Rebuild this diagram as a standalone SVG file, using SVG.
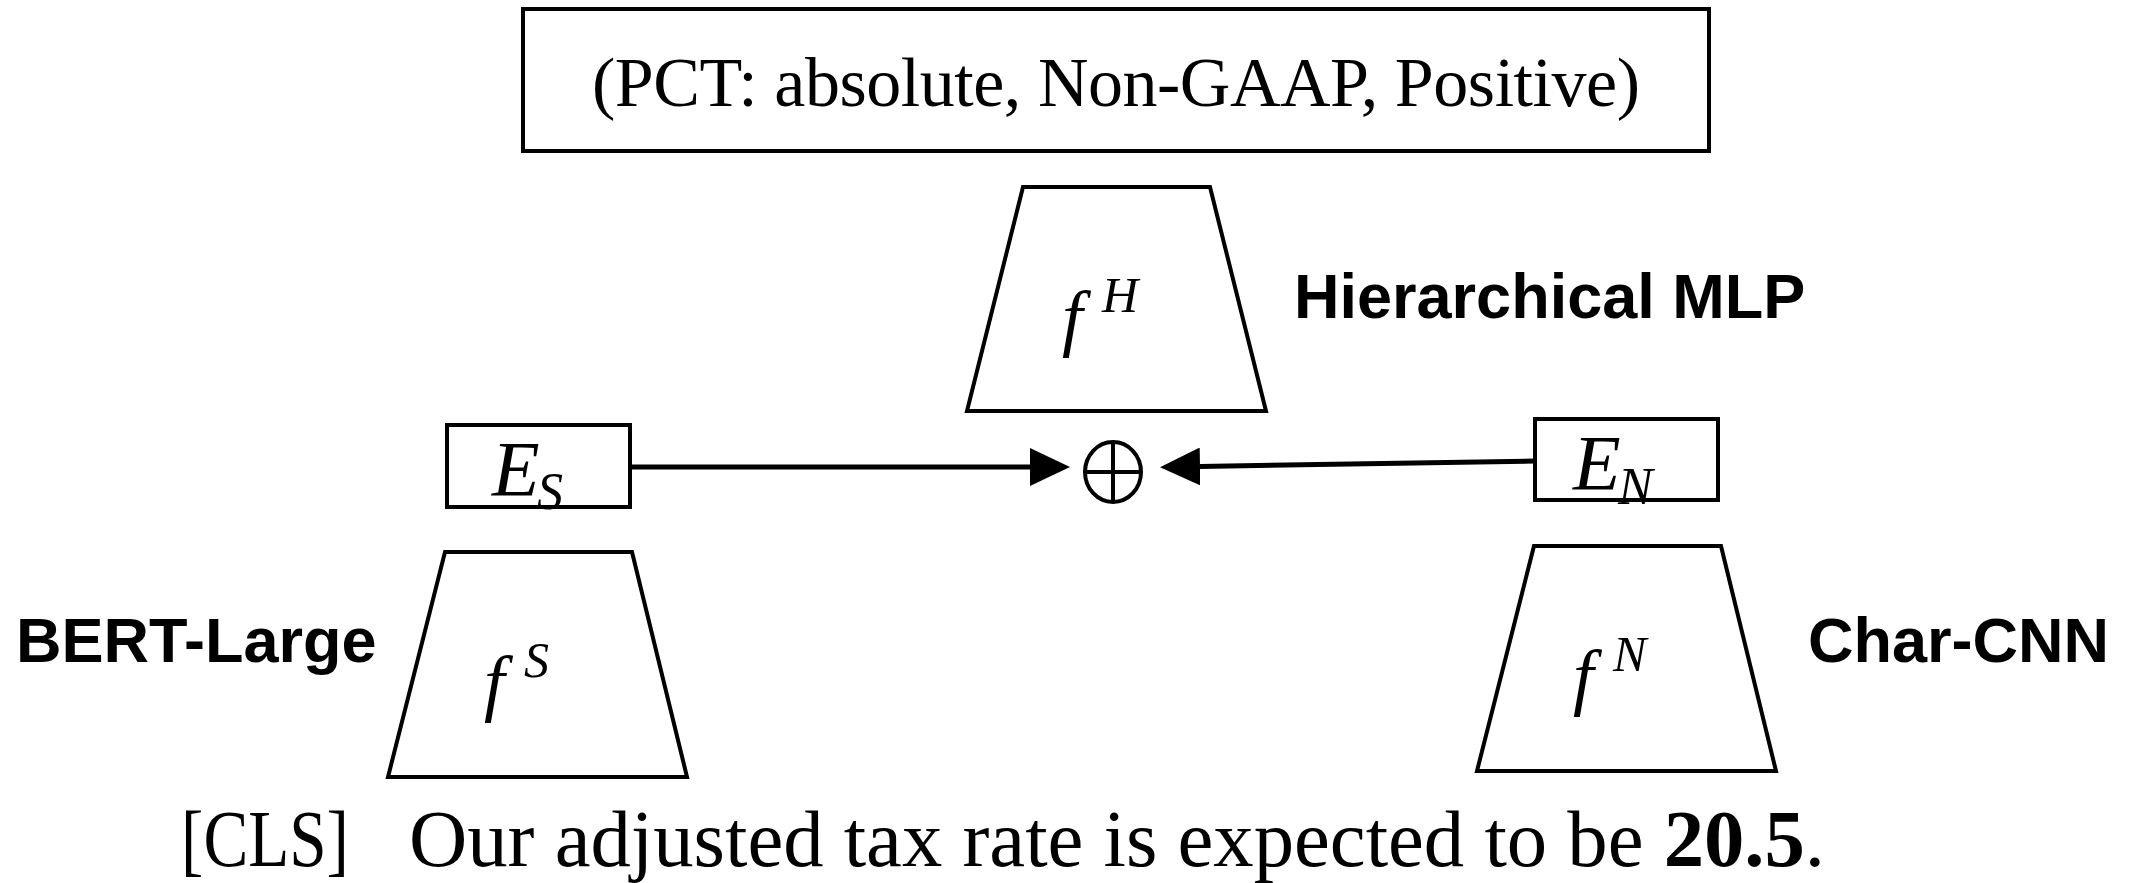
<svg xmlns="http://www.w3.org/2000/svg" width="2136" height="883" viewBox="0 0 2136 883">
  <style>
    .box { fill: #ffffff; stroke: #000000; stroke-width: 4; }
    .trap { fill: #ffffff; stroke: #000000; stroke-width: 4; stroke-linejoin: miter; }
    .serif { font-family: "Liberation Serif", "Times New Roman", serif; fill: #000000; }
    .math { font-family: "Liberation Serif", "Times New Roman", serif; font-style: italic; fill: #000000; }
    .fn { font-size: 74px; }
    .sup { font-size: 50px; }
    .label { font-family: "Liberation Sans", Arial, sans-serif; font-weight: bold; font-size: 63px; fill: #000000; }
    .edge { stroke: #000000; stroke-width: 5; fill: none; }
  </style>
  <defs>
    <marker id="head" markerUnits="userSpaceOnUse" viewBox="0 0 40 38" refX="0" refY="19" markerWidth="40" markerHeight="38" orient="auto">
      <path d="M0,0 L40,19 L0,38 Z" fill="#000000"/>
    </marker>
  </defs>
  <rect width="2136" height="883" fill="#ffffff"/>

  <!-- output tuple -->
  <g id="output">
    <rect class="box" x="523" y="9" width="1186" height="142"/>
    <text class="serif" x="1116" y="106" font-size="70" text-anchor="middle" textLength="1048">(PCT: absolute, Non-GAAP, Positive)</text>
  </g>

  <!-- hierarchical MLP head -->
  <g id="fH">
    <polygon class="trap" points="1023,187 1210,187 1266,411 967,411"/>
    <text class="math fn" x="1062" y="342">f</text>
    <text class="math sup" x="1102" y="312">H</text>
  </g>
  <text id="label-mlp" class="label" x="1294" y="318">Hierarchical MLP</text>

  <!-- sentence embedding -->
  <g id="ES">
    <rect class="box" x="447" y="425" width="183" height="82"/>
    <text class="math" x="492" y="495" font-size="78">E</text>
    <text class="math" x="537" y="509" font-size="52">S</text>
  </g>

  <!-- numeral embedding -->
  <g id="EN">
    <rect class="box" x="1535" y="419" width="183" height="81"/>
    <text class="math" x="1573" y="489" font-size="78">E</text>
    <text class="math" x="1618" y="504" font-size="52">N</text>
  </g>

  <!-- concatenation -->
  <g id="concat">
    <ellipse cx="1113" cy="472" rx="28" ry="30" fill="#ffffff" stroke="#000000" stroke-width="4"/>
    <line x1="1085" y1="472" x2="1141" y2="472" stroke="#000000" stroke-width="4"/>
    <line x1="1113" y1="442" x2="1113" y2="502" stroke="#000000" stroke-width="4"/>
  </g>

  <!-- sentence encoder -->
  <g id="fS">
    <polygon class="trap" points="445,552 632,552 687,777 388,777"/>
    <text class="math fn" x="484" y="707">f</text>
    <text class="math sup" x="524" y="677">S</text>
  </g>
  <text id="label-bert" class="label" x="16" y="662">BERT-Large</text>

  <!-- numeral encoder -->
  <g id="fN">
    <polygon class="trap" points="1534,546 1721,546 1776,771 1477,771"/>
    <text class="math fn" x="1573" y="701">f</text>
    <text class="math sup" x="1613" y="671">N</text>
  </g>
  <text id="label-char" class="label" x="1808" y="662">Char-CNN</text>

  <!-- connectors -->
  <g id="connectors">
    <line class="edge" x1="630" y1="467" x2="1030" y2="467" marker-end="url(#head)"/>
    <line class="edge" x1="1535" y1="461" x2="1200" y2="466.5" marker-end="url(#head)"/>
  </g>

  <!-- input sentence -->
  <g id="sentence">
    <text class="serif" x="181" y="866" font-size="80" textLength="168" lengthAdjust="spacingAndGlyphs">[CLS]</text>
    <text class="serif" x="409" y="866" font-size="80" textLength="1416" lengthAdjust="spacingAndGlyphs">Our adjusted tax rate is expected to be <tspan font-weight="bold">20.5</tspan>.</text>
  </g>
</svg>
